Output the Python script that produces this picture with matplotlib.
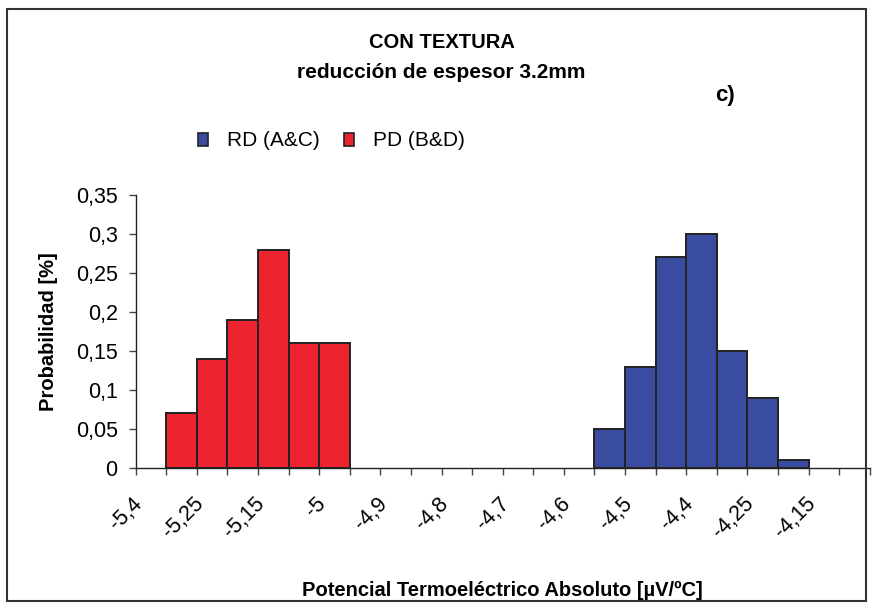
import numpy as np
import matplotlib
matplotlib.use("Agg")
import matplotlib.pyplot as plt
from matplotlib.patches import Rectangle
from matplotlib.ticker import FuncFormatter
from matplotlib.transforms import ScaledTranslation

plt.rcParams['font.family'] = ['Liberation Sans', 'DejaVu Sans']

# 24 class intervals on the category axis, labels shown every second class
n_classes = 24
tick_labels = ["-5,4", "-5,25", "-5,15", "-5", "-4,9", "-4,8",
               "-4,7", "-4,6", "-4,5", "-4,4", "-4,25", "-4,15"]

# probability per class (zero where the series has no samples)
rd_values = [0, 0, 0, 0, 0, 0, 0, 0, 0, 0, 0, 0,
             0, 0, 0, 0.05, 0.13, 0.27, 0.30, 0.15, 0.09, 0.01, 0, 0]
pd_values = [0, 0.07, 0.14, 0.19, 0.28, 0.16, 0.16, 0, 0, 0, 0, 0,
             0, 0, 0, 0, 0, 0, 0, 0, 0, 0, 0, 0]

rd_color = "#3A4C9F"
pd_color = "#EC2430"
edge = "#222222"

fig = plt.figure(figsize=(8.74, 6.10), dpi=100)
ax = fig.add_axes([0.1553, 0.2328, 0.8398, 0.4475])

x = np.arange(n_classes) + 0.5
rd_mask = np.array(rd_values) > 0
pd_mask = np.array(pd_values) > 0
ax.bar(x[pd_mask], np.array(pd_values)[pd_mask], width=1.0, color=pd_color,
       edgecolor=edge, linewidth=1.4, zorder=3)
ax.bar(x[rd_mask], np.array(rd_values)[rd_mask], width=1.0, color=rd_color,
       edgecolor=edge, linewidth=1.4, zorder=3)

# class boundaries carry the tick marks, labels sit at every second centre
ax.set_xticks(np.arange(n_classes + 1))
ax.set_xticklabels([])
ax.set_xticks(np.arange(len(tick_labels)) * 2 + 0.5, minor=True)
ax.set_xticklabels(tick_labels, minor=True, rotation=45, ha="right",
                   va="top", rotation_mode="anchor", fontsize=15.5)
ax.tick_params(axis="x", which="major", length=5, width=1, color="#444444",
               direction="out")
ax.tick_params(axis="x", which="minor", length=0, pad=18)
shift = ScaledTranslation(-19 / 100, 0, fig.dpi_scale_trans)
for lab in ax.get_xticklabels(minor=True):
    lab.set_transform(lab.get_transform() + shift)

ax.set_xlim(0, n_classes)
ax.set_ylim(0, 0.35)

ax.set_yticks(np.arange(0, 0.351, 0.05))
ax.yaxis.set_major_formatter(FuncFormatter(
    lambda v, p: ("%g" % round(v, 2)).replace(".", ",")))
ax.tick_params(axis="y", length=5, width=1, color="#444444", pad=8,
               labelsize=15.5)

for side in ("top", "right"):
    ax.spines[side].set_visible(False)
for side in ("left", "bottom"):
    ax.spines[side].set_color("#222222")
    ax.spines[side].set_linewidth(1.0)

ax.set_ylabel("Probabilidad [%]", fontsize=14.5, fontweight="bold",
              labelpad=13)
ax.set_xlabel("Potencial Termoeléctrico Absoluto [µV/ºC]", fontsize=14.5,
              fontweight="bold", labelpad=28)

fig.text(0.506, 1 - 42 / 610, "CON TEXTURA", ha="center", va="center",
         fontsize=14.5, fontweight="bold")
fig.text(0.505, 1 - 72 / 610, "reducción de espesor 3.2mm", ha="center",
         va="center", fontsize=15, fontweight="bold")
fig.text(725 / 874, 1 - 96 / 610, "c)", ha="center", va="center",
         fontsize=16, fontweight="bold")

handles = [Rectangle((0, 0), 1, 1, facecolor=rd_color, edgecolor=edge, lw=1.2),
           Rectangle((0, 0), 1, 1, facecolor=pd_color, edgecolor=edge, lw=1.2)]
fig.legend(handles, ["RD (A&C)", "PD (B&D)"], loc="center left",
           bbox_to_anchor=(198 / 874, 1 - 141 / 610), ncol=2, frameon=False,
           fontsize=15, handlelength=0.5, handleheight=0.6, handletextpad=0.9,
           columnspacing=1.15, borderpad=0, borderaxespad=0)

# chart-area border
fig.patches.append(Rectangle((7 / 874, 1 - 601 / 610), 859 / 874, 592 / 610,
                             transform=fig.transFigure, fill=False,
                             edgecolor="#333333", linewidth=1.5))

fig.savefig("out.png", dpi=100)
